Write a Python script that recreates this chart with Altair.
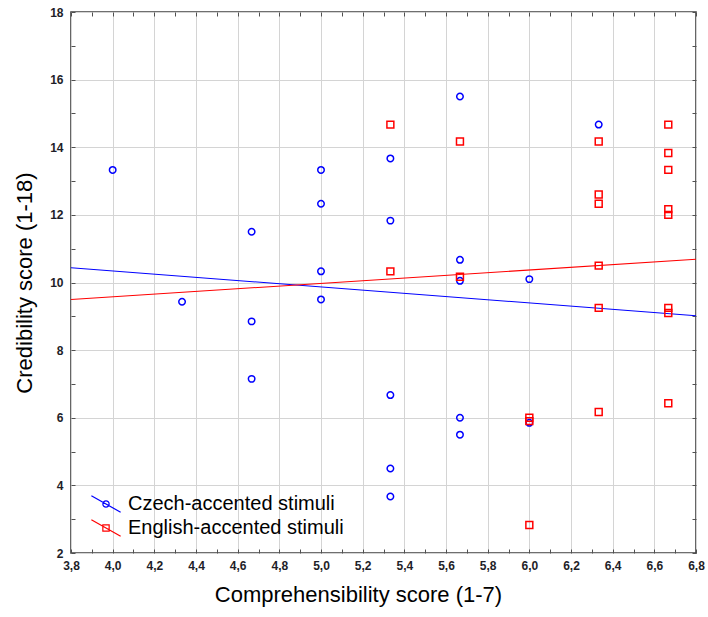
import altair as alt
import pandas as pd

# --- data ---------------------------------------------------------------
groups = ["Czech-accented stimuli", "English-accented stimuli"]

czech_x = [4.0, 4.333, 4.667, 4.667, 4.667, 5.0, 5.0, 5.0, 5.0,
           5.333, 5.333, 5.333, 5.333, 5.333,
           5.667, 5.667, 5.667, 5.667, 5.667, 6.0, 6.0, 6.333]
czech_y = [13.33, 9.43, 11.5, 8.85, 7.15, 13.33, 12.33, 10.33, 9.5,
           13.67, 11.83, 6.67, 4.5, 3.67,
           15.5, 10.67, 10.05, 6.0, 5.5, 10.1, 5.85, 14.67]

english_x = [5.333, 5.333, 5.667, 5.667, 6.0, 6.0, 6.0,
             6.333, 6.333, 6.333, 6.333, 6.333, 6.333,
             6.667, 6.667, 6.667, 6.667, 6.667, 6.667, 6.667, 6.667]
english_y = [14.67, 10.33, 14.17, 10.17, 6.0, 5.9, 2.83,
             14.17, 12.6, 12.33, 10.5, 9.25, 6.17,
             14.67, 13.83, 13.33, 12.17, 12.0, 9.25, 9.1, 6.43]

# tick positions (all ticks incl. minor) and labelled / gridded ones
x_ticks = [3.8, 3.9, 4.0, 4.1, 4.2, 4.3, 4.4, 4.5, 4.6, 4.7, 4.8, 4.9, 5.0,
           5.1, 5.2, 5.3, 5.4, 5.5, 5.6, 5.7, 5.8, 5.9, 6.0, 6.1, 6.2, 6.3,
           6.4, 6.5, 6.6, 6.7, 6.8]
x_major = [3.8, 4.0, 4.2, 4.4, 4.6, 4.8, 5.0, 5.2, 5.4, 5.6, 5.8, 6.0,
           6.2, 6.4, 6.6, 6.8]
y_ticks = [2, 3, 4, 5, 6, 7, 8, 9, 10, 11, 12, 13, 14, 15, 16, 17, 18]
y_major = [2, 4, 6, 8, 10, 12, 14, 16, 18]

czech_df = pd.DataFrame({"x": czech_x, "y": czech_y, "group": groups[0]})
english_df = pd.DataFrame({"x": english_x, "y": english_y, "group": groups[1]})

FONT = "Liberation Sans"
BLUE = "#0000ff"
RED = "#ff0000"
TICK = "#505050"
GRID = "#d4d4d4"

x_scale = alt.Scale(domain=[3.8, 6.8], nice=False, zero=False)
y_scale = alt.Scale(domain=[2, 18], nice=False, zero=False)

czech_sym = "M-1.95,-1.1L1.95,1.1M-0.42,0A0.42,0.42,0,1,0,0.42,0A0.42,0.42,0,1,0,-0.42,0Z"
english_sym = "M-1.95,-1.1L1.95,1.1M-0.42,-0.42L0.42,-0.42L0.42,0.42L-0.42,0.42Z"

x_is_major = "round(datum.value*10) % 2 == 0"
y_is_major = "round(datum.value) % 2 == 0"

main_x_axis = alt.Axis(
    orient="bottom",
    values=x_ticks,
    labelExpr=x_is_major + " ? replace(format(datum.value, '.1f'), '.', ',') : ''",
    grid=False, domain=False,
    offset=-4, tickSize=4, tickColor=TICK, tickWidth=1,
    labelPadding=7, labelFont=FONT, labelFontSize=12, labelFontWeight="bold",
    labelColor="#1e1e28",
    labelOverlap=False, labelFlush=False,
    title="Comprehensibility score (1-7)", titleFont=FONT, titleFontSize=22,
    titleFontWeight="normal", titleColor="#000000", titlePadding=13,
    titleX=287,
)
main_y_axis = alt.Axis(
    orient="left",
    values=y_ticks,
    labelExpr=y_is_major + " ? format(datum.value, 'd') : ''",
    grid=False, domain=False,
    offset=-4, tickSize=4, tickColor=TICK, tickWidth=1,
    labelPadding=8, labelFont=FONT, labelFontSize=12, labelFontWeight="bold",
    labelColor="#1e1e28",
    labelOverlap=False, labelFlush=False,
    title="Credibility score (1-18)", titleFont=FONT, titleFontSize=22,
    titleFontWeight="normal", titleColor="#000000", titlePadding=13,
)
top_axis = alt.Axis(orient="top", values=x_ticks, labels=False, grid=False, domain=False,
                    offset=-4, tickSize=4, tickColor=TICK, title=None)
right_axis = alt.Axis(orient="right", values=y_ticks, labels=False, grid=False, domain=False,
                      offset=-4, tickSize=4, tickColor=TICK, title=None)
grid_x_axis = alt.Axis(orient="bottom", values=x_major, grid=True, gridColor=GRID, gridWidth=1,
                       ticks=False, labels=False, domain=False, title=None)
grid_y_axis = alt.Axis(orient="left", values=y_major, grid=True, gridColor=GRID, gridWidth=1,
                       ticks=False, labels=False, domain=False, title=None)


def legend(sym, y):
    return alt.Legend(
        title=None, orient="none", legendX=25, legendY=y,
        symbolType=sym, symbolSize=225, labelOffset=12, labelLimit=400,
        labelFont=FONT, labelFontSize=20, labelColor="#000000",
        symbolStrokeWidth=1.2, symbolFillColor="transparent",
    )


pts_czech = alt.Chart(czech_df).mark_point(
    filled=False, shape="circle", strokeWidth=1.5, size=42, opacity=1
).encode(
    x=alt.X("x:Q", scale=x_scale, axis=main_x_axis),
    y=alt.Y("y:Q", scale=y_scale, axis=main_y_axis),
    stroke=alt.Stroke("group:N", scale=alt.Scale(domain=[groups[0]], range=[BLUE]),
                      legend=legend(czech_sym, 482)),
)

fit_czech = alt.Chart(czech_df).transform_regression(
    "x", "y", extent=[3.8, 6.8]
).mark_line(strokeWidth=1.1, color=BLUE, clip=True).encode(
    x=alt.X("x:Q", scale=x_scale, axis=top_axis),
    y=alt.Y("y:Q", scale=y_scale, axis=right_axis),
)

fit_english = alt.Chart(english_df).transform_regression(
    "x", "y", extent=[3.8, 6.8]
).mark_line(strokeWidth=1.1, color=RED, clip=True).encode(
    x=alt.X("x:Q", scale=x_scale, axis=grid_x_axis),
    y=alt.Y("y:Q", scale=y_scale, axis=grid_y_axis),
)

pts_english = alt.Chart(english_df).mark_point(
    filled=False, shape="square", strokeWidth=1.5, size=48, opacity=1
).encode(
    x=alt.X("x:Q", scale=x_scale, axis=None),
    y=alt.Y("y:Q", scale=y_scale, axis=None),
    color=alt.Color("group:N", scale=alt.Scale(domain=[groups[1]], range=[RED]),
                    legend=legend(english_sym, 506)),
)

chart = alt.layer(pts_czech, fit_czech, fit_english, pts_english).resolve_axis(
    x="independent", y="independent"
).properties(
    width=625, height=541,
    autosize=alt.AutoSizeParams(type="none"),
    padding={"left": 71, "top": 12, "right": 12, "bottom": 64},
    background="#ffffff",
).configure_view(stroke="#404040", strokeWidth=1.6)

chart.save("out.html", embed_options={"renderer": "svg", "actions": False})
